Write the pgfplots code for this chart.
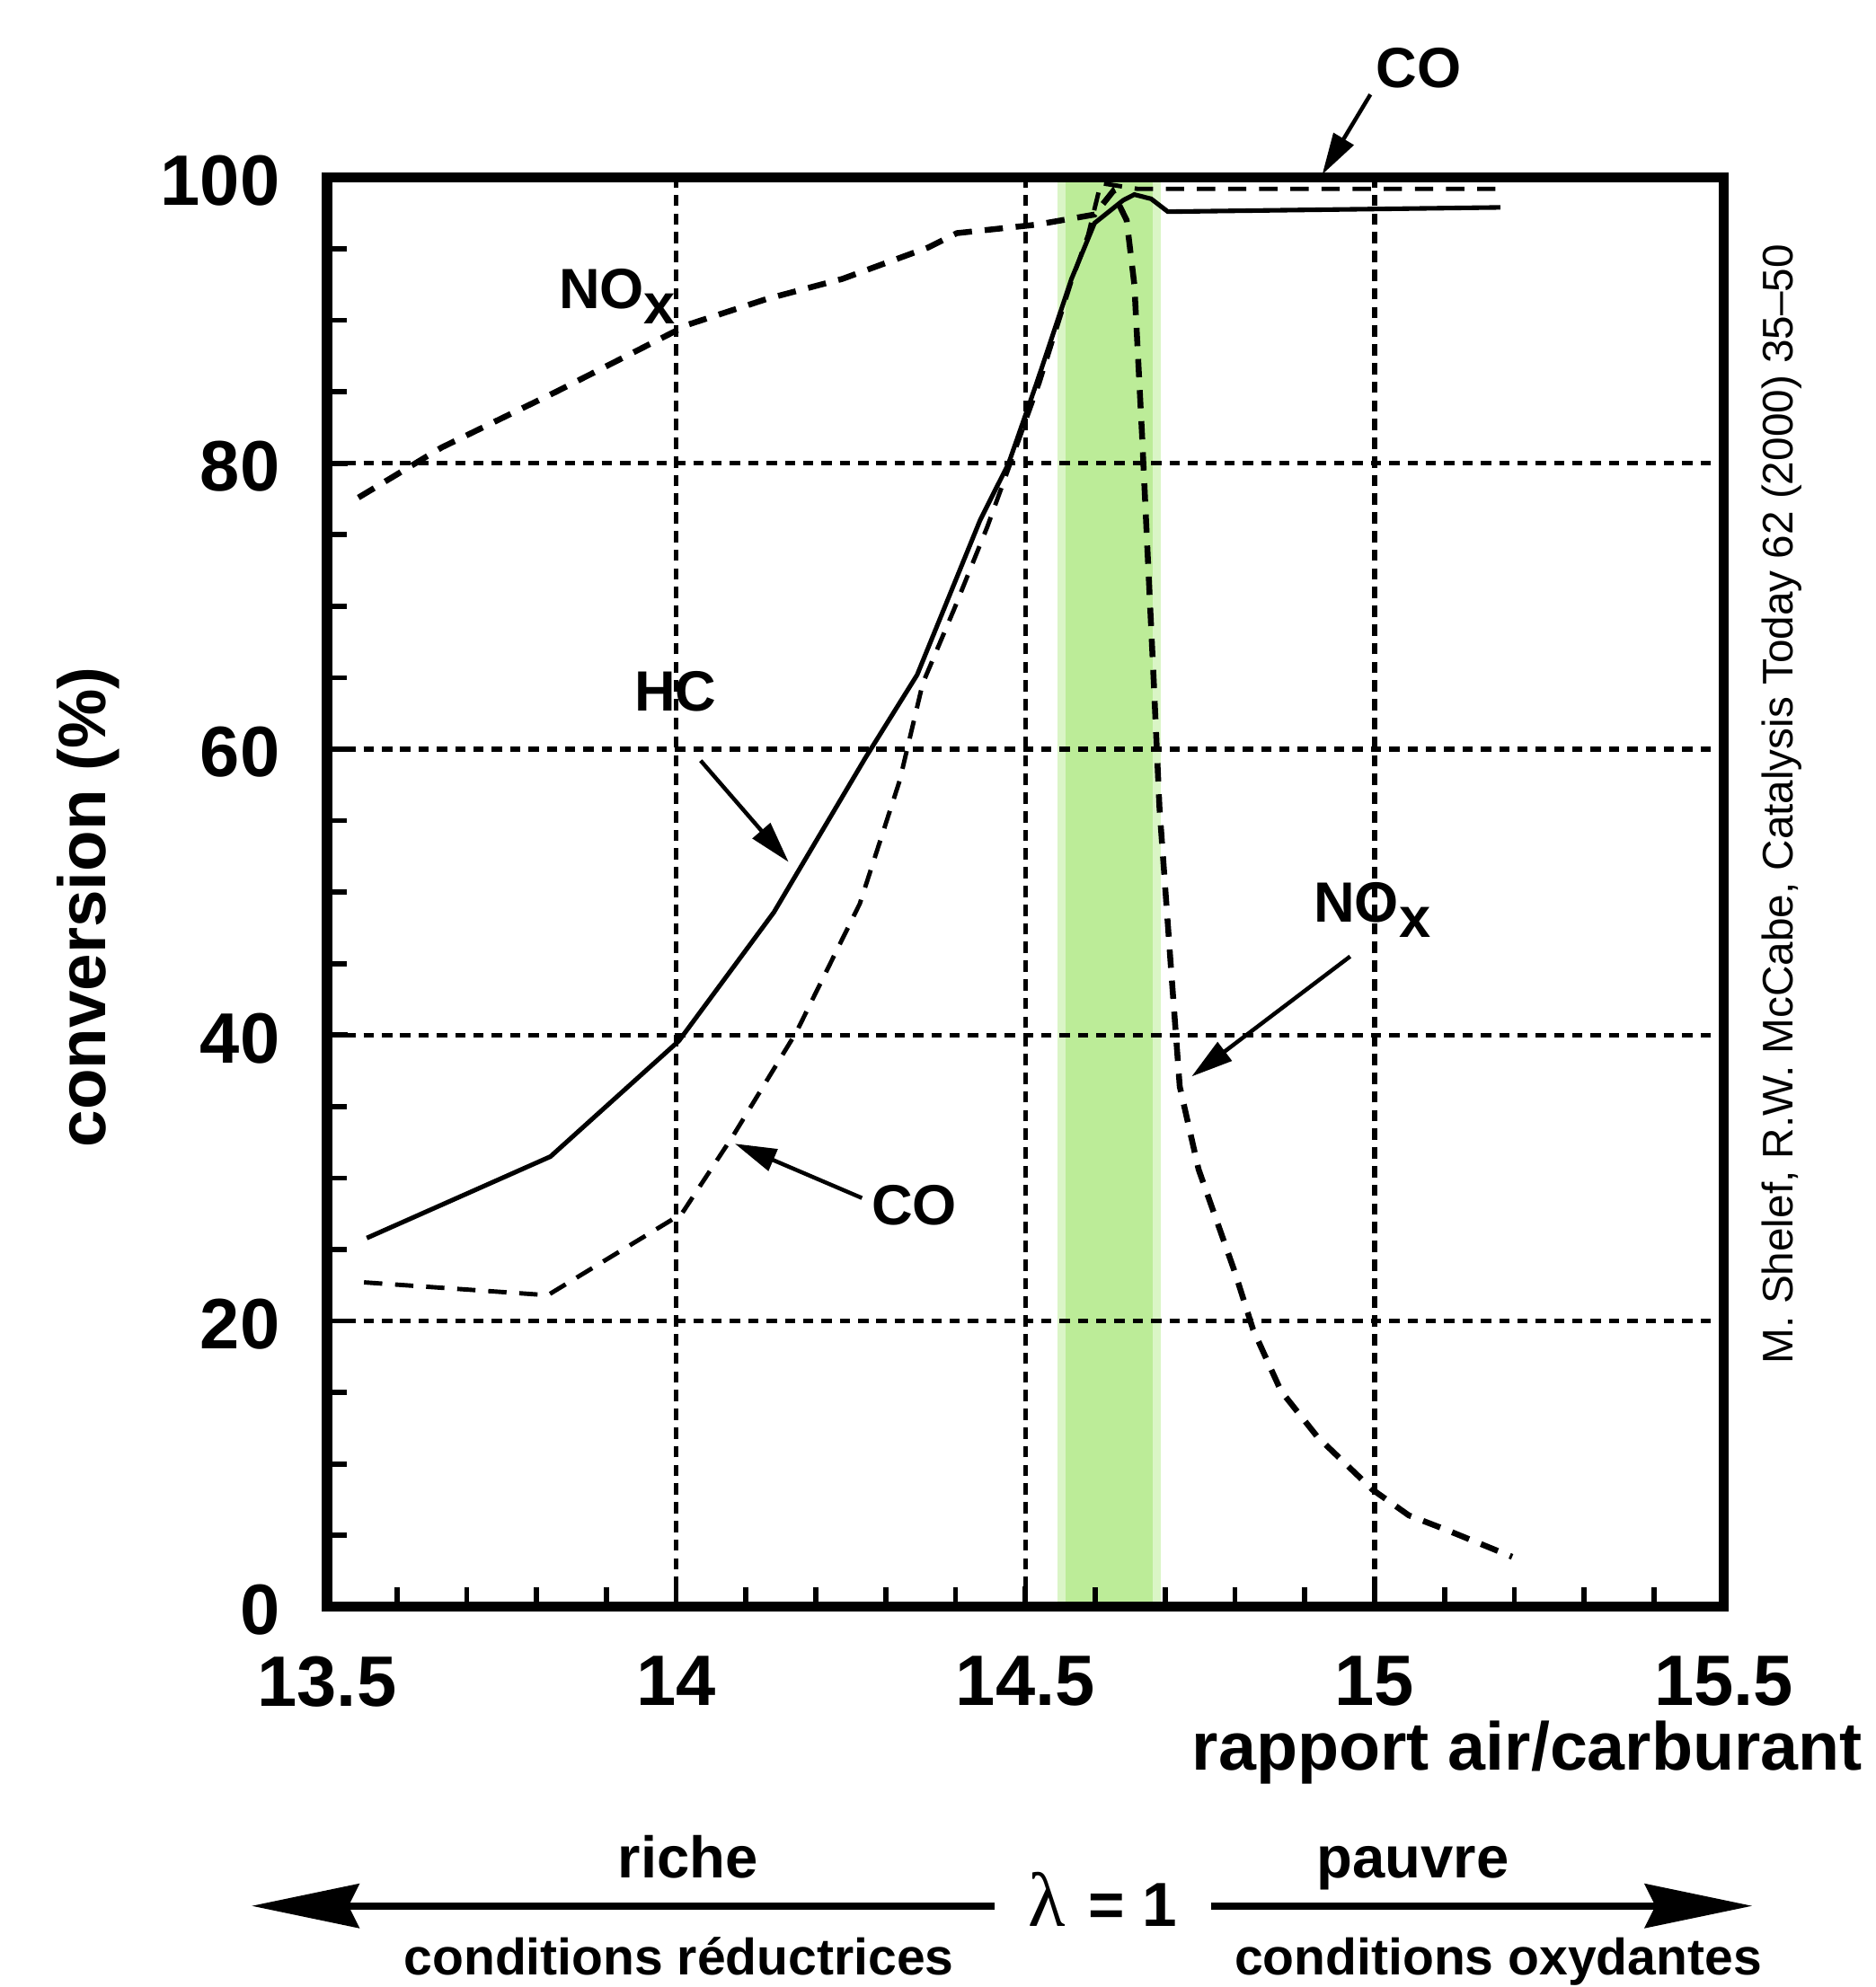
\documentclass[border=0pt]{standalone}
\usepackage{fontspec}
\setmainfont{Liberation Sans}
\newfontfamily\seriffont{Liberation Serif}
\usepackage{pgfplots}
\pgfplotsset{compat=1.18}
\usetikzlibrary{arrows.meta}

\definecolor{bandgreen}{RGB}{188,236,152}

% annotation font and the NOx label
\newcommand{\lab}{\fontsize{15.5}{18}\selectfont\bfseries}
\newcommand{\nox}{NO\raisebox{-0.27em}{x}}

\begin{document}
\begin{tikzpicture}
\useasboundingbox (-3.1378,-3.6486) rectangle (14.8622,15.4216);
\begin{axis}[
  at={(0,0)}, anchor=south west,
  scale only axis,
  width=13.4027cm, height=13.7189cm,
  xmin=13.5, xmax=15.5, ymin=0, ymax=100,
  clip=false,
  axis on top,
  axis line style={line width=2.8pt},
  xtick={13.5,14,14.5,15,15.5},
  xticklabels={13.5,14,14.5,15,15.5},
  ytick={0,20,40,60,80,100},
  yticklabels={0,20,40,60,80,100},
  minor x tick num=4,
  minor y tick num=3,
  tick align=inside,
  xtick pos=bottom, ytick pos=left,
  major tick length=0.2cm,
  minor tick length=0.19cm,
  tick style={line width=1.4pt, black},
  grid=major,
  x grid style={line width=1.3pt, dash pattern=on 3.1pt off 2pt, black},
  y grid style={line width=1.3pt, dash pattern=on 2.8pt off 2.2pt, black},
  ticklabel style={font=\fontsize{19.5}{22}\selectfont\bfseries},
  xticklabel style={yshift=-0.35cm},
  yticklabel style={xshift=-0.33cm, yshift=-0.03cm},
]

% lambda = 1 window
\fill[bandgreen!55] (axis cs:14.546,0) rectangle (axis cs:14.694,100);
\fill[bandgreen] (axis cs:14.558,0) rectangle (axis cs:14.682,100);

% NOx
\addplot[black, line width=1.6pt, dash pattern=on 5pt off 3.5pt] coordinates {
  (13.545,77.6) (13.664,81.1) (13.828,85.0) (14.017,89.7) (14.13,91.5)
  (14.238,92.9) (14.361,95.1) (14.402,96.1) (14.517,96.7) (14.599,97.4)
  (14.625,99.0) (14.645,97.0) (14.656,92.5) (14.667,82.0) (14.675,73.7)
  (14.684,64.5) (14.692,55.9) (14.708,45.0) (14.721,36.4) (14.748,30.6)
  (14.774,27.0) (14.800,23.4) (14.826,19.4) (14.866,15.1) (14.918,11.9)
  (14.997,8.2) (15.049,6.4) (15.102,5.4) (15.197,3.5)
};

% HC
\addplot[black, line width=1.25pt] coordinates {
  (13.557,25.8) (13.820,31.5) (14.004,39.6) (14.140,48.6) (14.271,59.4)
  (14.345,65.2) (14.435,76.0) (14.476,80.0) (14.516,85.6) (14.566,92.9)
  (14.599,96.8) (14.640,98.4) (14.656,98.8) (14.680,98.5) (14.704,97.6)
  (15.180,97.9)
};

% CO
\addplot[black, line width=1.2pt, dash pattern=on 5pt off 3.5pt] coordinates {
  (13.553,22.7) (13.816,21.8) (14.008,27.5) (14.082,33.0) (14.172,40.2)
  (14.263,49.2) (14.320,57.8) (14.353,64.6) (14.398,69.8) (14.445,75.5)
  (14.480,80.2) (14.520,85.6) (14.565,92.6) (14.590,96.0) (14.608,99.6)
  (14.660,99.2) (15.184,99.2)
};

% labels and arrows
\node[anchor=base west, font=\lab, inner sep=0pt] at (axis cs:13.831,90.83) {\nox};
\node[anchor=base west, font=\lab, inner sep=0pt] at (axis cs:13.939,62.66) {HC};
\node[anchor=base west, font=\lab, inner sep=0pt] at (axis cs:14.279,26.75) {CO};
\node[anchor=base west, font=\lab, inner sep=0pt] at (axis cs:14.912,47.9) {\nox};
\node[anchor=base west, font=\lab, inner sep=0pt] at (axis cs:15.001,106.3) {CO};

\draw[line width=1.1pt, -{Triangle[length=0.4cm,width=0.22cm]}]
  (axis cs:14.035,59.2) -- (axis cs:14.161,52.1);
\draw[line width=1.1pt, -{Triangle[length=0.4cm,width=0.22cm]}]
  (axis cs:14.266,28.6) -- (axis cs:14.084,32.4);
\draw[line width=1.1pt, -{Triangle[length=0.4cm,width=0.22cm]}]
  (axis cs:14.965,45.5) -- (axis cs:14.738,37.1);
\draw[line width=1.1pt, -{Triangle[length=0.4cm,width=0.22cm]}]
  (axis cs:14.994,105.8) -- (axis cs:14.925,100.2);
\end{axis}

% axis titles
\node[rotate=90, anchor=base, font=\fontsize{18.3}{21}\selectfont\bfseries, inner sep=0pt]
  at (-2.126,6.714) {conversion (\%)};
\node[anchor=base east, font=\fontsize{18.5}{21}\selectfont\bfseries, inner sep=0pt]
  at (14.7405,-1.569) {rapport air/carburant};
\node[rotate=90, anchor=base, font=\fontsize{11.7}{14}\selectfont, inner sep=0pt]
  at (14.069,7.705) {M. Shelef, R.W. McCabe, Catalysis Today 62 (2000) 35\textendash 50};

% rich / lean arrows
\node[anchor=base, font=\fontsize{16}{19}\selectfont\bfseries, inner sep=0pt] at (3.4626,-2.6027) {riche};
\node[anchor=base, font=\fontsize{16}{19}\selectfont\bfseries, inner sep=0pt] at (10.4193,-2.6027) {pauvre};
\draw[line width=2pt, -{Stealth[length=1.03cm,width=0.42cm,inset=0.1cm]}] (6.4022,-2.8703) -- (-0.7237,-2.8703);
\draw[line width=2pt, -{Stealth[length=1.03cm,width=0.42cm,inset=0.1cm]}] (8.4807,-2.8703) -- (13.6763,-2.8703);
\node[anchor=base, inner sep=0pt] at (7.4432,-3.0649)
  {{\seriffont\fontsize{21}{24}\selectfont λ}\hspace{0.22cm}{\fontsize{17}{20}\selectfont\bfseries = 1}};
\node[anchor=base, font=\fontsize{14}{17}\selectfont\bfseries, inner sep=0pt] at (3.3763,-3.535) {conditions réductrices};
\node[anchor=base, font=\fontsize{14}{17}\selectfont\bfseries, inner sep=0pt] at (11.2378,-3.535) {conditions oxydantes};
\end{tikzpicture}
\end{document}
